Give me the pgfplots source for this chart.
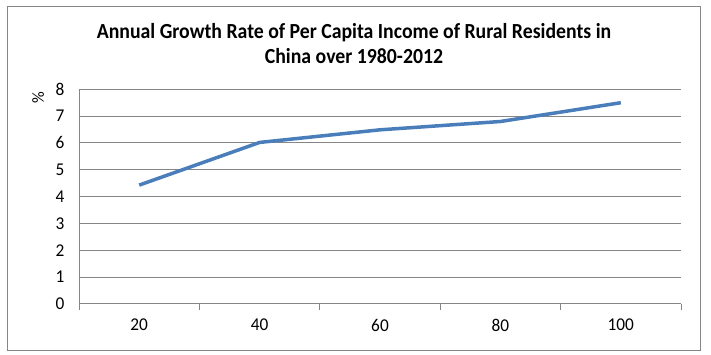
\documentclass[border=0pt]{standalone}
\usepackage{pgfplots}
\pgfplotsset{compat=1.18}
\usepackage{fontspec}
\setmainfont{Carlito}
\newfontfamily\tickfont[FakeStretch=0.96]{Carlito}
\newfontfamily\titlefont[FakeStretch=0.92]{Carlito}
\definecolor{linec}{HTML}{4A7EBB}
\definecolor{gridc}{HTML}{868686}
\begin{document}
\begin{tikzpicture}[x=1pt,y=1pt]
\useasboundingbox (0,0) rectangle (711,355);
\draw[gridc, line width=1pt] (7.5,4.5) rectangle (700,348);
\node[font=\titlefont\bfseries\fontsize{21.5}{25}\selectfont, anchor=base] at (354,316) {Annual Growth Rate of Per Capita Income of Rural Residents in};
\node[font=\titlefont\bfseries\fontsize{21.5}{25}\selectfont, anchor=base] at (354,291) {China over 1980-2012};
\begin{axis}[
  at={(79pt,51pt)}, anchor=origin,
  scale only axis, width=602pt, height=214.7pt,
  xmin=0.5, xmax=5.5, ymin=0, ymax=8,
  xtick={1,2,3,4,5},
  xticklabels={20,40,60,80,100},
  minor xtick={0.5,1.5,2.5,3.5,4.5,5.5},
  ytick={0,1,...,8},
  axis x line*=bottom, axis y line*=left,
  axis line style={gridc, line width=1pt, -},
  ymajorgrids, major grid style={gridc, line width=1pt},
  major tick length=0pt, minor tick length=6pt,
  tick align=outside,
  minor tick style={gridc, line width=1pt},
  tick label style={font=\tickfont\fontsize{18}{18}\selectfont, text=black},
  /pgf/number format/assume math mode=true,
  xticklabel style={anchor=center, yshift=-21pt},
  yticklabel style={anchor=east, xshift=-11pt},
  ylabel={\%},
  every axis y label/.style={font=\tickfont\fontsize{17}{17}\selectfont, at={(axis description cs:-0.068,0.96)}, anchor=center, rotate=90},
  clip=false,
]
\addplot[linec, line width=3.5pt, line join=round] coordinates {(1,4.43) (2,6.02) (3,6.49) (4,6.8) (5,7.5)};
\end{axis}
\end{tikzpicture}
\end{document}
